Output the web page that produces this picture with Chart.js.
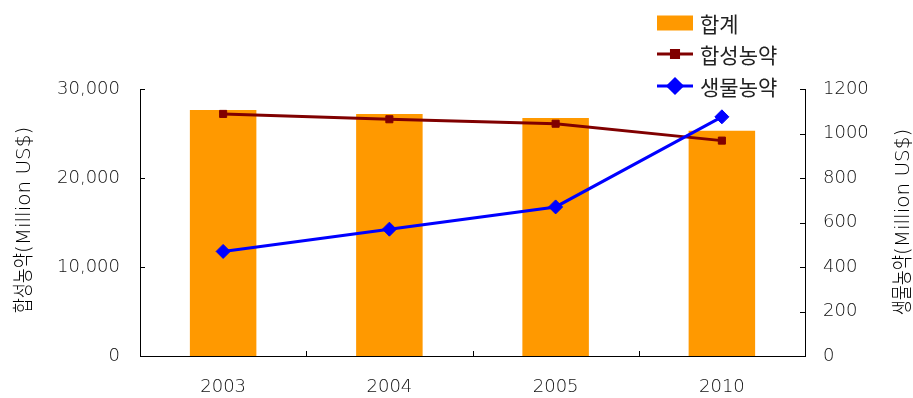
<!DOCTYPE html>
<html>
<head>
<meta charset="utf-8">
<script src="https://cdn.jsdelivr.net/npm/chart.js@4/dist/chart.umd.min.js"></script>
<style>
  html, body { margin: 0; padding: 0; background: #fff; overflow: hidden; }
  canvas { display: block; }
</style>
</head>
<body>
<canvas id="c" width="913" height="398"></canvas>
<script>
// Pesticide market values, Million US$
const years = ['2003', '2004', '2005', '2010'];
const totalValues = [27650, 27200, 26750, 25300];      // 합계
const syntheticValues = [27200, 26600, 26100, 24200];  // 합성농약
const bioValues = [470, 570, 670, 1075];               // 생물농약
const seriesNames = ['합계', '합성농약', '생물농약'];
const leftTicks = [0, 10000, 20000, 30000];
const rightTicks = [0, 200, 400, 600, 800, 1000, 1200];
const leftTitle = ['합성농약', '(Million US$)'];
const rightTitle = ['생물농약', '(Million US$)'];

const TEXT = '#111';
const NUM_FONT = { family: '"DejaVu Sans", sans-serif', size: 18, weight: 200 };

// Draws a vertical title reading bottom-to-top, Korean part condensed.
function drawVerticalTitle(ctx, cx, cy, parts) {
  const specs = [
    { text: parts[0], font: '300 21px "Noto Sans CJK KR"', sx: 0.78 },
    { text: parts[1], font: '200 20px "DejaVu Sans", "Noto Sans CJK KR"', sx: 1 }
  ];
  ctx.save();
  ctx.translate(cx, cy);
  ctx.rotate(-Math.PI / 2);
  const widths = specs.map(p => { ctx.font = p.font; return ctx.measureText(p.text).width * p.sx; });
  const total = widths.reduce((a, b) => a + b, 0);
  let x = -total / 2;
  ctx.fillStyle = '#000';
  ctx.textAlign = 'left';
  ctx.textBaseline = 'alphabetic';
  specs.forEach((p, i) => {
    ctx.save();
    ctx.font = p.font;
    ctx.translate(x, 7.5);
    ctx.scale(p.sx, 1);
    ctx.fillText(p.text, 0, 0);
    ctx.restore();
    x += widths[i];
  });
  ctx.restore();
}

const decorations = {
  id: 'decorations',
  afterDraw(chart) {
    const ctx = chart.ctx;
    const a = chart.chartArea;
    const sx = chart.scales.x, sy = chart.scales.y, sr = chart.scales.y1;

    // inward tick marks
    ctx.save();
    ctx.strokeStyle = '#000';
    ctx.lineWidth = 1;
    ctx.beginPath();
    sy.ticks.forEach(t => {
      const py = Math.round(sy.getPixelForValue(t.value)) + 0.5;
      ctx.moveTo(a.left, py); ctx.lineTo(a.left + 5, py);
    });
    sr.ticks.forEach(t => {
      const py = Math.round(sr.getPixelForValue(t.value)) + 0.5;
      ctx.moveTo(a.right, py); ctx.lineTo(a.right - 5, py);
    });
    for (let i = 0; i < years.length - 1; i++) {
      const px = Math.round((sx.getPixelForValue(i) + sx.getPixelForValue(i + 1)) / 2) + 0.5;
      ctx.moveTo(px, a.bottom); ctx.lineTo(px, a.bottom - 5);
    }
    ctx.stroke();
    ctx.restore();

    // axis titles
    drawVerticalTitle(ctx, 22, 220, leftTitle);
    drawVerticalTitle(ctx, 901, 222, rightTitle);

    // legend
    const ds = chart.data.datasets;
    const lx0 = 657, lx1 = 693, tx = 700;
    const rows = [23, 54, 86];
    ctx.save();
    ctx.font = '21px "Noto Sans CJK KR"';
    ctx.textBaseline = 'middle';
    ctx.textAlign = 'left';
    ds.forEach((d, i) => {
      const y = rows[i];
      if (d.type === 'bar') {
        ctx.fillStyle = d.backgroundColor;
        ctx.fillRect(lx0, y - 7.5, lx1 - lx0, 15);
      } else {
        ctx.strokeStyle = d.borderColor;
        ctx.lineWidth = d.borderWidth;
        ctx.beginPath();
        ctx.moveTo(lx0, y); ctx.lineTo(lx1, y);
        ctx.stroke();
        ctx.fillStyle = d.pointBackgroundColor;
        ctx.strokeStyle = d.pointBorderColor;
        Chart.helpers.drawPoint(ctx, {
          pointStyle: d.pointStyle, radius: d.pointRadius, rotation: 0, borderWidth: 1
        }, (lx0 + lx1) / 2, y);
      }
      ctx.fillStyle = '#222';
      ctx.fillText(d.label, tx, y + 1);
    });
    ctx.restore();
  }
};

const axisBorder = { display: true, color: '#000', width: 1 };

new Chart(document.getElementById('c'), {
  data: {
    labels: years,
    datasets: [
      {
        type: 'bar', label: seriesNames[0], data: totalValues, yAxisID: 'y',
        backgroundColor: '#FF9900', borderWidth: 0,
        barPercentage: 0.4, categoryPercentage: 1, order: 3
      },
      {
        type: 'line', label: seriesNames[1], data: syntheticValues, yAxisID: 'y',
        borderColor: '#800000', borderWidth: 3, tension: 0,
        pointStyle: 'rect', pointRadius: 5,
        pointBackgroundColor: '#800000', pointBorderColor: '#800000', pointBorderWidth: 1,
        order: 2
      },
      {
        type: 'line', label: seriesNames[2], data: bioValues, yAxisID: 'y1',
        borderColor: '#0000FF', borderWidth: 3, tension: 0,
        pointStyle: 'rectRot', pointRadius: 7,
        pointBackgroundColor: '#0000FF', pointBorderColor: '#0000FF', pointBorderWidth: 1,
        order: 1
      }
    ]
  },
  options: {
    responsive: false,
    animation: false,
    devicePixelRatio: 1,
    layout: { padding: { top: 89, left: 0, right: 0, bottom: 0 } },
    plugins: { legend: { display: false }, tooltip: { enabled: false } },
    scales: {
      x: {
        type: 'category', offset: true,
        grid: { display: false, offset: true, drawTicks: false },
        border: axisBorder,
        ticks: { font: NUM_FONT, color: TEXT, padding: 21, maxRotation: 0 },
        afterFit(s) { s.height = 42; }
      },
      y: {
        type: 'linear', position: 'left', min: 0, max: 30000,
        grid: { display: false, drawTicks: false },
        border: axisBorder,
        afterBuildTicks(s) { s.ticks = leftTicks.map(v => ({ value: v })); },
        ticks: {
          font: NUM_FONT, color: TEXT, padding: 20,
          callback: v => Number(v).toLocaleString('en-US')
        },
        afterFit(s) { s.width = 140; }
      },
      y1: {
        type: 'linear', position: 'right', min: 0, max: 1200,
        grid: { display: false, drawTicks: false },
        border: axisBorder,
        afterBuildTicks(s) { s.ticks = rightTicks.map(v => ({ value: v })); },
        ticks: { font: NUM_FONT, color: TEXT, padding: 18, callback: v => String(v) },
        afterFit(s) { s.width = 108; }
      }
    }
  },
  plugins: [decorations]
});
</script>
</body>
</html>
